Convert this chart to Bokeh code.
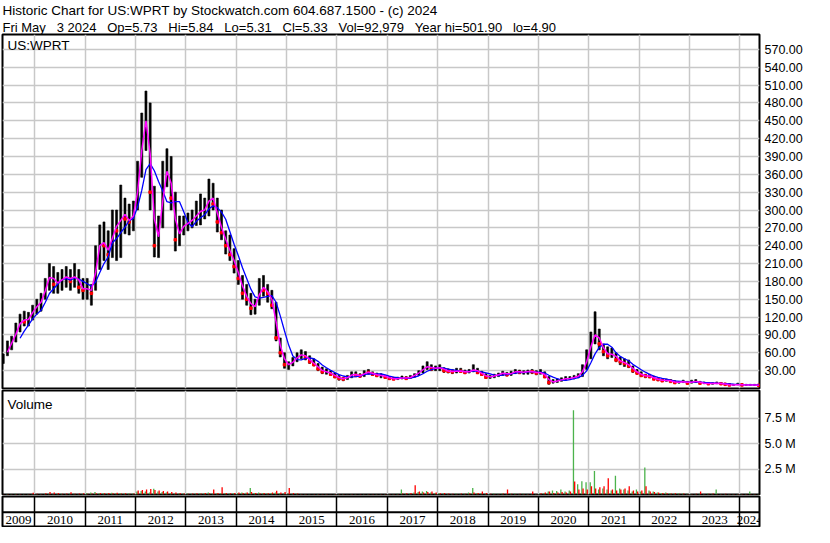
import numpy as np
import pandas as pd
from bokeh.plotting import figure
from bokeh.layouts import column
from bokeh.models import (Range1d, FixedTicker, LinearAxis, NumeralTickFormatter,
                          Title, Label, LabelSet, Span, Grid, ColumnDataSource)
from bokeh.embed import file_html
from bokeh.resources import INLINE

# ---------------- data (monthly, May 2009 .. May 2024) ----------------
start_year, start_month = 2009, 5

price_high = [58, 80, 88, 110, 125, 130, 128, 140,
              150, 160, 185, 210, 205, 195, 200, 205, 200, 210, 200, 185,
              185, 175, 240, 275, 280, 265, 300, 300, 342, 320, 310, 315,
              382, 463, 500, 480, 340, 290, 382, 403, 390, 330, 290, 290,
              295, 300, 315, 327, 320, 352, 345, 320, 300, 265, 258, 235,
              215, 190, 175, 160, 150, 185, 190, 175, 165, 145, 85, 60,
              45, 52, 60, 65, 62, 55, 50, 42, 36, 33, 30, 26,
              22, 19, 22, 28, 28, 25, 30, 32, 28, 26, 25, 22,
              20, 19, 19, 21, 20, 22, 25, 30, 38, 45, 40, 38,
              40, 35, 33, 32, 34, 34, 31, 32, 40, 34, 29, 25,
              22, 24, 26, 29, 27, 29, 32, 31, 30, 31, 32, 30,
              32, 28, 20, 15, 16, 18, 20, 20, 22, 25, 40, 65,
              95, 129, 100, 75, 70, 68, 60, 53, 50, 48, 38, 32,
              28, 24, 24, 21, 17, 16, 16, 15, 13, 12, 14, 12,
              14, 15, 12, 11, 10, 10, 11, 10, 9, 8, 7, 9,
              8, 7, 7, 7, 5.84]

price_low = [42, 55, 65, 78, 95, 105, 105, 115,
             125, 130, 150, 165, 160, 160, 165, 170, 165, 170, 160, 150,
             150, 140, 165, 200, 215, 200, 220, 215, 220, 260, 258, 265,
             300, 355, 400, 300, 221, 220, 270, 339, 300, 231, 240, 258,
             265, 270, 274, 275, 285, 290, 300, 263, 250, 226, 215, 194,
             175, 150, 140, 124, 125, 140, 155, 145, 134, 80, 53, 34,
             32, 38, 45, 50, 48, 42, 38, 30, 25, 24, 22, 18,
             14, 13, 15, 18, 20, 19, 20, 24, 22, 20, 18, 17,
             15, 15, 15, 16, 16, 17, 19, 22, 26, 32, 30, 30,
             30, 27, 26, 25, 26, 27, 25, 26, 28, 25, 22, 17,
             17, 18, 20, 22, 21, 22, 25, 25, 24, 24, 25, 23,
             24, 18, 7, 9, 10, 12, 14, 15, 16, 18, 20, 32,
             50, 75, 65, 55, 50, 52, 45, 40, 37, 35, 27, 24,
             20, 18, 18, 15, 13, 12, 12, 11, 9, 9, 10, 8,
             9, 10, 8, 8, 7, 7, 8, 7, 6, 5, 5, 6,
             5, 5, 5, 5, 5.31]

price_close = [52, 70, 82, 100, 118, 112, 120, 135,
               140, 150, 178, 195, 175, 180, 185, 190, 180, 195, 170, 165,
               170, 160, 230, 250, 240, 225, 280, 265, 300, 285, 280, 300,
               360, 440, 460, 330, 240, 270, 360, 370, 320, 250, 270, 275,
               280, 285, 295, 300, 300, 330, 310, 280, 262, 240, 225, 205,
               185, 160, 150, 135, 140, 175, 165, 160, 140, 85, 60, 40,
               40, 48, 55, 58, 52, 45, 40, 33, 28, 28, 24, 20,
               17, 16, 20, 25, 22, 21, 28, 27, 24, 22, 22, 19,
               17, 16, 17, 18, 17, 20, 24, 28, 35, 38, 33, 35,
               35, 30, 29, 28, 30, 29, 27, 29, 33, 27, 24, 19,
               20, 22, 24, 27, 23, 27, 29, 27, 28, 29, 28, 26,
               27, 20, 10, 12, 13, 16, 17, 17, 20, 21, 35, 55,
               85, 95, 75, 62, 55, 60, 48, 45, 42, 38, 30, 26,
               22, 21, 20, 16, 15, 13, 14, 12, 10, 11, 12, 9,
               12, 12, 9, 9, 8, 9, 9, 8, 7, 6, 6, 7,
               6, 6, 6, 6, 5.33]

# weekly-volume peaks per month, millions (green = up weeks, red = down weeks)
vol_up = [0.03, 0.04, 0.05, 0.08, 0.05, 0.04, 0.05, 0.06,
          0.06, 0.05, 0.08, 0.1, 0.06, 0.08, 0.07, 0.06, 0.1, 0.08, 0.06, 0.07,
          0.15, 0.2, 0.25, 0.15, 0.12, 0.1, 0.18, 0.12, 0.15, 0.1, 0.12, 0.1,
          0.3, 0.35, 0.3, 0.2, 0.57, 0.3, 0.25, 0.2, 0.15, 0.1, 0.12, 0.1,
          0.1, 0.08, 0.1, 0.15, 0.12, 0.2, 0.1, 0.12, 0.15, 0.15, 0.1, 0.12,
          0.15, 0.2, 0.18, 0.64, 0.15, 0.2, 0.15, 0.12, 0.15, 0.2, 0.15, 0.1,
          0.1, 0.08, 0.1, 0.05, 0.06, 0.04, 0.03, 0.04, 0.03, 0.04, 0.03, 0.05,
          0.04, 0.05, 0.03, 0.06, 0.04, 0.03, 0.05, 0.04, 0.03, 0.04, 0.06, 0.05,
          0.05, 0.06, 0.08, 0.48, 0.1, 0.12, 0.2, 0.25, 0.3, 0.35, 0.2, 0.15,
          0.15, 0.1, 0.08, 0.06, 0.1, 0.08, 0.1, 0.2, 0.64, 0.15, 0.1, 0.08,
          0.06, 0.1, 0.08, 0.1, 0.06, 0.08, 0.1, 0.06, 0.08, 0.05, 0.06, 0.05,
          0.1, 0.15, 0.3, 0.4, 0.35, 0.5, 0.3, 0.4, 8.26, 1.0, 1.3, 1.2,
          1.2, 2.3, 0.5, 0.6, 0.5, 0.4, 1.85, 0.6, 0.5, 0.4, 0.3, 0.5,
          0.3, 2.64, 0.4, 0.3, 0.2, 0.15, 0.2, 0.15, 0.1, 0.12, 0.1, 0.08,
          0.06, 0.05, 0.08, 0.06, 0.1, 0.08, 0.5, 0.06, 0.05, 0.06, 0.05, 0.06,
          0.05, 0.06, 0.3, 0.05, 0.05]

vol_down = [0.02, 0.04, 0.03, 0.04, 0.05, 0.03, 0.06, 0.16,
            0.08, 0.06, 0.12, 0.25, 0.19, 0.15, 0.08, 0.1, 0.22, 0.08, 0.1, 0.12,
            0.08, 0.1, 0.12, 0.15, 0.12, 0.15, 0.12, 0.18, 0.1, 0.12, 0.08, 0.1,
            0.4, 0.45, 0.5, 0.55, 0.45, 0.4, 0.35, 0.3, 0.25, 0.2, 0.15, 0.1,
            0.08, 0.1, 0.12, 0.1, 0.15, 0.12, 0.48, 0.15, 0.7, 0.15, 0.12, 0.15,
            0.2, 0.15, 0.2, 0.25, 0.15, 0.12, 0.15, 0.12, 0.2, 0.38, 0.2, 0.25,
            0.64, 0.15, 0.1, 0.05, 0.04, 0.03, 0.05, 0.04, 0.06, 0.04, 0.03, 0.05,
            0.05, 0.04, 0.03, 0.04, 0.03, 0.04, 0.03, 0.05, 0.04, 0.03, 0.05, 0.04,
            0.06, 0.05, 0.06, 0.1, 0.12, 0.15, 0.9, 0.3, 0.2, 0.25, 0.3, 0.2,
            0.12, 0.15, 0.1, 0.08, 0.06, 0.1, 0.08, 0.12, 0.2, 0.15, 0.3, 0.15,
            0.08, 0.06, 0.05, 0.1, 0.5, 0.08, 0.06, 0.08, 0.05, 0.06, 0.3, 0.06,
            0.12, 0.2, 0.3, 0.15, 0.2, 0.25, 0.2, 0.3, 1.27, 0.5, 0.6, 0.5,
            0.8, 0.6, 0.7, 0.8, 1.6, 0.5, 0.4, 0.5, 0.6, 0.8, 0.4, 0.3,
            0.4, 0.8, 0.3, 0.25, 0.2, 0.15, 0.12, 0.1, 0.12, 0.08, 0.1, 0.06,
            0.05, 0.08, 0.3, 0.06, 0.08, 0.1, 0.06, 0.05, 0.08, 0.05, 0.06, 0.05,
            0.04, 0.05, 0.06, 0.05, 0.04]

price_ticks = [30, 60, 90, 120, 150, 180, 210, 240, 270, 300, 330, 360, 390,
               420, 450, 480, 510, 540, 570]
volume_ticks = [2500000, 5000000, 7500000]
volume_tick_labels = ["2.5 M", "5.0 M", "7.5 M"]
year_ticks = list(range(2010, 2025))
year_labels = [str(y) for y in range(2009, 2025)]

GAP = "\u00a0\u00a0\u00a0"   # wide gaps between the fields of the header
header_line1 = "Historic Chart for US:WPRT by Stockwatch.com 604.687.1500 - (c) 2024"
header_line2 = GAP.join(["Fri May", "3 2024", "Op=5.73", "Hi=5.84", "Lo=5.31",
                         "Cl=5.33", "Vol=92,979", "Year hi=501.90", "lo=4.90"])
symbol_label = "US:WPRT"
volume_label = "Volume"

# ---------------- derived ----------------
n = len(price_close)
t = start_year + (start_month - 1 + np.arange(n) + 0.5) / 12.0
close = np.array(price_close, dtype=float)
prev = np.concatenate([[close[0]], close[:-1]])
down = close < prev
ma_fast = pd.Series(close).rolling(2).mean().to_numpy()
ma_slow = pd.Series(close).rolling(5).mean().to_numpy()

FONT = "Liberation Sans"
W = 814
LB, RB = 2, 55
GRID = "#c8c8c8"
GREEN = "#4cb34c"
x_start, x_end = 2009.36, 2024.39
xr = Range1d(x_start, x_end)


def base_fig(height, yr, top, bottom):
    f = figure(width=W, height=height, x_range=xr, y_range=yr,
               output_backend="svg", toolbar_location=None,
               x_axis_type=None, y_axis_type=None, title=None,
               min_border_left=LB, min_border_right=RB,
               min_border_top=top, min_border_bottom=bottom)
    f.outline_line_color = "black"
    f.outline_line_width = 2
    f.outline_line_alpha = 1.0
    f.background_fill_color = "white"
    f.border_fill_color = "white"
    return f


def right_axis(ticker, **kw):
    ax = LinearAxis(ticker=ticker, **kw)
    ax.major_tick_in = 0
    ax.major_tick_out = 0
    ax.minor_tick_line_color = None
    ax.axis_line_color = None
    ax.major_label_standoff = 5
    ax.major_label_text_font = FONT
    ax.major_label_text_font_size = "12.5px"
    ax.major_label_text_color = "black"
    return ax


# ---------------- price panel ----------------
p = base_fig(389, Range1d(0, 595), 0, 1)
for txt, fs in [(header_line2, "13px"), (header_line1, "13.5px")]:
    p.add_layout(Title(text=txt, align="left", text_font=FONT,
                       text_font_size=fs, text_font_style="normal",
                       text_color="black", standoff=0, offset=0), "above")

p.add_layout(Grid(dimension=0, ticker=FixedTicker(ticks=year_ticks),
                  grid_line_color=GRID, grid_line_width=1.5))
p.add_layout(Grid(dimension=1, ticker=FixedTicker(ticks=price_ticks),
                  grid_line_color=GRID, grid_line_width=1.5))
p.add_layout(right_axis(FixedTicker(ticks=price_ticks, minor_ticks=[]),
                        formatter=NumeralTickFormatter(format="0.00")), "right")

p.vbar(x=t, bottom=price_low, top=price_high, width=0.04,
       fill_color="black", line_color="black", line_width=0.6)
p.scatter(x=t[down], y=close[down], marker="square", size=2.5,
          fill_color="red", line_color="red")
p.line(x=t, y=ma_slow, line_color="#0000ff", line_width=1.3)
p.line(x=t, y=ma_fast, line_color="#ff00ff", line_width=1.5)

p.add_layout(Label(x=x_start, y=595, x_offset=5, y_offset=-3, text=symbol_label,
                   text_font=FONT, text_font_size="13.5px", text_baseline="top",
                   text_color="black"))

# ---------------- volume panel ----------------
v = base_fig(106, Range1d(0, 10.2e6), 1, 1)
v.add_layout(Grid(dimension=0, ticker=FixedTicker(ticks=year_ticks),
                  grid_line_color=GRID, grid_line_width=1.5))
v.add_layout(Grid(dimension=1, ticker=FixedTicker(ticks=volume_ticks),
                  grid_line_color=GRID, grid_line_width=1.5))
v.add_layout(right_axis(FixedTicker(ticks=volume_ticks, minor_ticks=[]),
                        major_label_overrides=dict(zip(volume_ticks, volume_tick_labels))),
             "right")
v.vbar(x=t - 0.012, bottom=0, top=np.array(vol_up) * 1e6, width=0.026,
       fill_color=GREEN, line_color=None)
v.vbar(x=t + 0.012, bottom=0, top=np.array(vol_down) * 1e6, width=0.026,
       fill_color="red", line_color=None)
v.add_layout(Label(x=x_start, y=10.2e6, x_offset=5, y_offset=-6, text=volume_label,
                   text_font=FONT, text_font_size="13.5px", text_baseline="top",
                   text_color="black"))

# ---------------- date band ----------------
d = base_fig(32, Range1d(0, 2.1), 1, 1)
d.add_layout(Grid(dimension=0, ticker=FixedTicker(ticks=year_ticks),
                  grid_line_color="black", grid_line_width=1.5))
d.add_layout(Span(location=1.0, dimension="width", line_color="black", line_width=2))
bounds = [x_start] + year_ticks + [x_end]
centers = [(a + b) / 2 for a, b in zip(bounds[:-1], bounds[1:])]
year_src = ColumnDataSource(dict(x=centers, y=[0.48] * len(centers), text=year_labels))
d.add_layout(LabelSet(x="x", y="y", text="text", source=year_src,
                      text_font=FONT, text_font_size="13px", text_align="center",
                      text_baseline="middle", text_color="black"))

layout = column(p, v, d, spacing=0)
open("out.html", "w").write(file_html(layout, INLINE))
